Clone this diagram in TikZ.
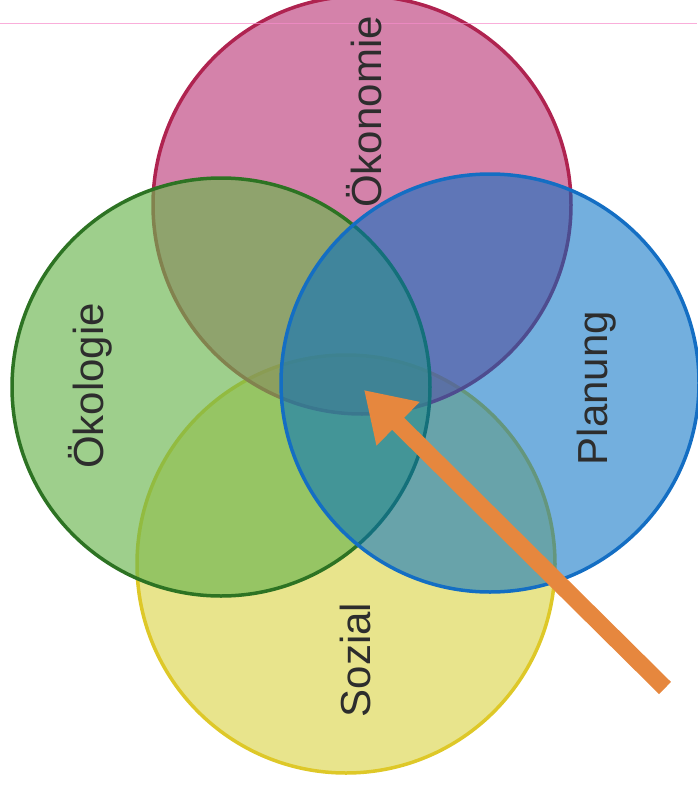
\documentclass[tikz,border=0pt]{standalone}
\usepackage{fontspec}
\setmainfont{Liberation Sans}
\usetikzlibrary{arrows.meta, positioning}

\definecolor{okofill}{RGB}{189,63,124}
\definecolor{okoline}{RGB}{175,35,80}
\definecolor{ecofill}{RGB}{106,181,78}
\definecolor{ecoline}{RGB}{45,115,35}
\definecolor{planfill}{RGB}{0,110,195}
\definecolor{planline}{RGB}{20,110,195}
\definecolor{sozfill}{RGB}{220,214,78}
\definecolor{sozline}{RGB}{222,200,40}
\definecolor{pfeil}{RGB}{230,135,62}
\definecolor{labeltext}{RGB}{45,45,45}

\begin{document}
\begin{tikzpicture}[
  x=1pt, y=-1pt,
  ring/.style={circle, minimum size=418pt, inner sep=0pt, line width=3.5pt, fill opacity=0.65},
  lbl/.style={rotate=90, text=labeltext, font=\fontsize{42}{48}\selectfont},
  >=Stealth
]
\useasboundingbox (0,0) rectangle (697,792);

% yellow lies lowest, blue on top
\node[ring, draw=sozline, fill=sozfill]   (soz)  at (346,564) {};
\node[ring, draw=okoline, fill=okofill]   (oko)  at (362,205) {};
\node[ring, draw=ecoline, fill=ecofill]   (eco)  at (221,387) {};
\node[ring, draw=planline, fill=planfill, fill opacity=0.55] (plan) at (490,383) {};

\draw[magenta!45, line width=0.8pt, opacity=0.7] (0,23) -- (697,23);

\node[lbl] (tOko)  at (364,112) {Ökonomie};
\node[lbl] (tEco)  at (90,386)  {Ökologie};
\node[lbl] (tPlan) at (597,388) {Planung};
\node[lbl] (tSoz)  at (355,660) {Sozial};

\coordinate (tail) at (665,688);
\coordinate (tip)  at (364,390);
\draw[pfeil, line width=17pt, -{Triangle[length=48pt, width=58pt]}] (tail) -- (tip);
\end{tikzpicture}
\end{document}
